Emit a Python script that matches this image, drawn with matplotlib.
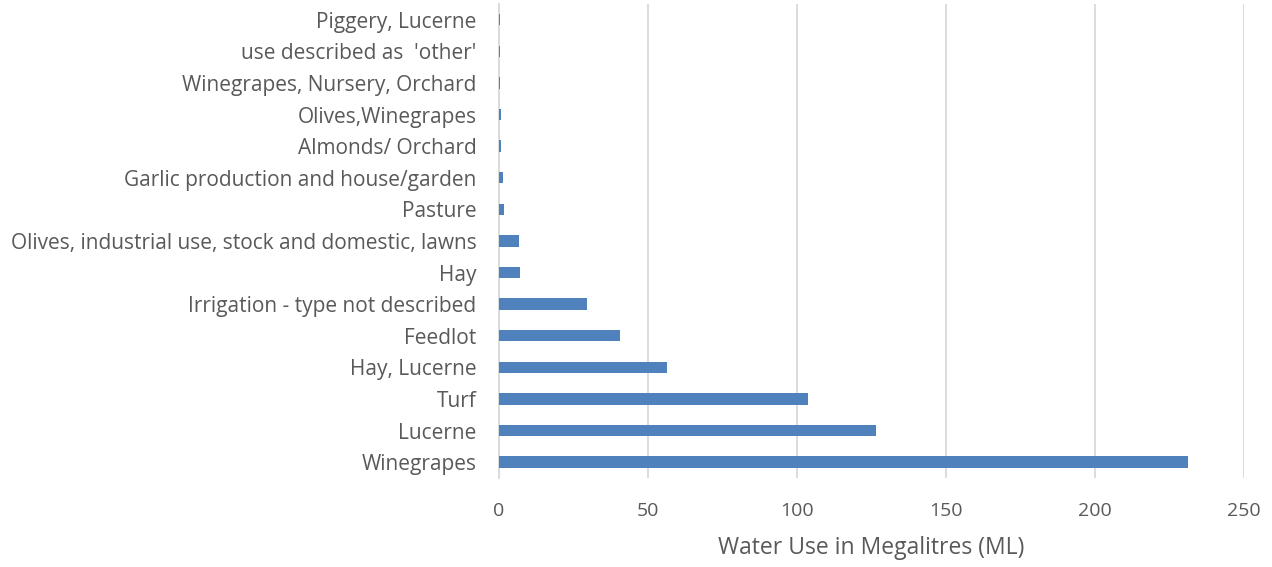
import matplotlib.pyplot as plt

categories = [
    "Winegrapes",
    "Lucerne",
    "Turf",
    "Hay, Lucerne",
    "Feedlot",
    "Irrigation - type not described",
    "Hay",
    "Olives, industrial use, stock and domestic, lawns",
    "Pasture",
    "Garlic production and house/garden",
    "Almonds/ Orchard",
    "Olives,Winegrapes",
    "Winegrapes, Nursery, Orchard",
    "use described as  'other'",
    "Piggery, Lucerne",
]
water_use = [231.3, 126.6, 103.8, 56.5, 40.8, 29.7, 7.3, 6.8, 1.7, 1.4, 0.8, 0.8, 0.6, 0.4, 0.3]
x_ticks = [0, 50, 100, 150, 200, 250]

plt.rcParams['font.family'] = ['Open Sans', 'DejaVu Sans']
text_color = '#595959'

fig, ax = plt.subplots(figsize=(12.72, 5.67), dpi=100)
fig.subplots_adjust(left=0.392, right=0.978, top=0.993, bottom=0.157)

ax.barh(range(len(categories)), water_use, height=0.36, color='#4F81BD', zorder=3)

ax.set_xlim(0, 250)
ax.set_ylim(-0.5, len(categories) - 0.5)
ax.set_xticks(x_ticks)
ax.set_yticks(range(len(categories)))
ax.set_yticklabels(categories)
ax.grid(axis='x', color='#D9D9D9', linewidth=1.3, zorder=0)
ax.set_axisbelow(True)

for side in ['top', 'right', 'bottom']:
    ax.spines[side].set_visible(False)
ax.spines['left'].set_color('#D9D9D9')
ax.spines['left'].set_linewidth(1.3)

ax.tick_params(axis='y', length=0, labelsize=15, colors=text_color, pad=16)
ax.tick_params(axis='x', length=0, labelsize=14, colors=text_color, pad=17)
ax.set_xlabel('Water Use in Megalitres (ML)', fontsize=16.5, color=text_color, labelpad=12)

plt.savefig('out.png', dpi=100)
